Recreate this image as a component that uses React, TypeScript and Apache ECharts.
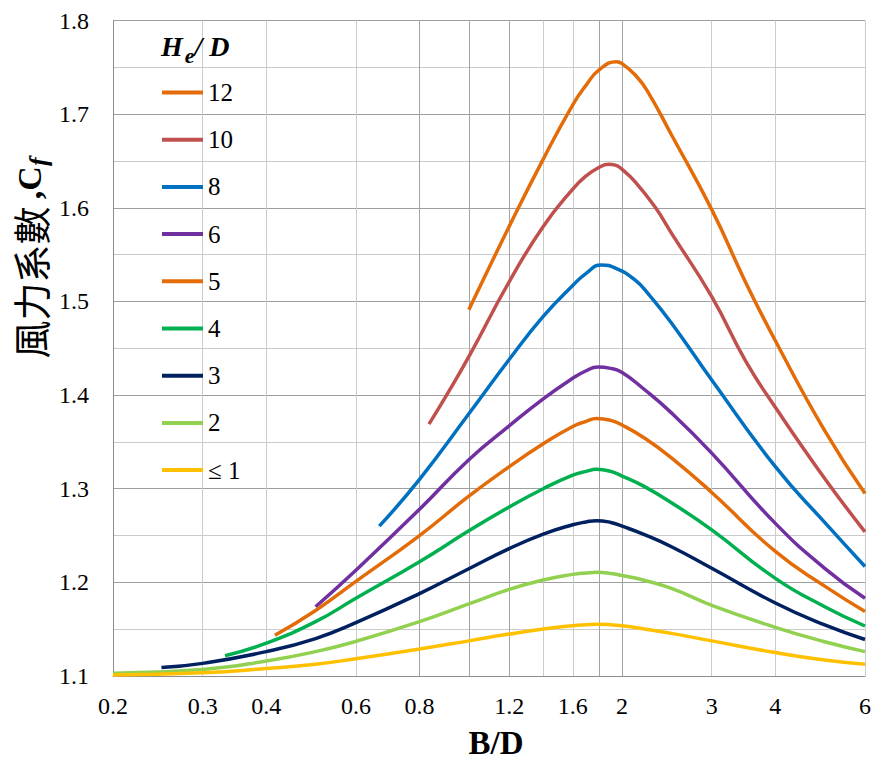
import React, { useEffect, useRef } from 'react';
import * as echarts from 'echarts';

// Axis ticks / grid positions (B/D, log scale)
const xLabelValues = [0.2, 0.3, 0.4, 0.6, 0.8, 1.2, 1.6, 2, 3, 4, 6];
const xLightGrid = [0.2, 0.3, 0.4, 0.6, 1.4, 1.6, 3, 4, 6];
const xDarkGrid = [0.8, 1, 1.2, 1.8, 2];

// Series names (He/D) and colours
const seriesNames = ['12', '10', '8', '6', '5', '4', '3', '2', '≤ 1'];
const seriesColors = ['#E36C09', '#C0504D', '#0070C0', '#7030A0', '#E36C09', '#00B050', '#002060', '#92D050', '#FFC000'];

// [B/D, Cf]
const cf12: number[][] = [[1.0, 1.491], [1.2, 1.58], [1.4, 1.652], [1.6, 1.71], [1.7, 1.731], [1.8, 1.747], [1.95, 1.756], [2.0, 1.754], [2.12, 1.742], [2.235, 1.726], [2.5, 1.678], [3.0, 1.598], [3.5, 1.52], [4.0, 1.458], [5.0, 1.362], [6.0, 1.295]];
const cf10: number[][] = [[0.835, 1.369], [0.9, 1.398], [1.0, 1.441], [1.2, 1.521], [1.4, 1.58], [1.6, 1.62], [1.7, 1.634], [1.8, 1.643], [1.88, 1.6465], [1.94, 1.6455], [2.0, 1.641], [2.12, 1.628], [2.32, 1.601], [2.5, 1.573], [3.0, 1.505], [3.5, 1.436], [4.0, 1.387], [5.0, 1.311], [6.0, 1.254]];
const cf8: number[][] = [[0.667, 1.26], [0.8, 1.31], [1.0, 1.38], [1.2, 1.438], [1.4, 1.484], [1.6, 1.517], [1.7, 1.53], [1.82, 1.539], [1.95, 1.535], [2.12, 1.523], [2.26, 1.507], [2.5, 1.477], [3.0, 1.416], [4.0, 1.3235], [5.0, 1.264], [6.0, 1.217]];
const cf6: number[][] = [[0.5, 1.174], [0.6, 1.213], [0.8, 1.278], [1.0, 1.331], [1.2, 1.367], [1.4, 1.396], [1.6, 1.418], [1.7, 1.426], [1.79, 1.43], [1.9, 1.4285], [2.0, 1.424], [2.2, 1.407], [2.5, 1.381], [3.0, 1.338], [4.0, 1.263], [5.0, 1.215], [6.0, 1.183]];
const cf5: number[][] = [[0.416, 1.1435], [0.5, 1.17], [0.6, 1.201], [0.8, 1.25], [1.0, 1.292], [1.2, 1.3235], [1.4, 1.348], [1.6, 1.3665], [1.7, 1.372], [1.78, 1.375], [1.9, 1.373], [2.0, 1.368], [2.2, 1.355], [2.5, 1.333], [3.0, 1.296], [4.0, 1.233], [5.0, 1.196], [6.0, 1.169]];
const cf4: number[][] = [[0.332, 1.1217], [0.4, 1.135], [0.5, 1.158], [0.6, 1.183], [0.8, 1.222], [1.0, 1.255], [1.2, 1.2805], [1.4, 1.3], [1.6, 1.3145], [1.7, 1.3185], [1.78, 1.3207], [1.9, 1.3185], [2.0, 1.3135], [2.2, 1.303], [2.5, 1.285], [3.0, 1.256], [4.0, 1.2043], [5.0, 1.174], [6.0, 1.1534]];
const cf3: number[][] = [[0.249, 1.109], [0.3, 1.1135], [0.4, 1.126], [0.5, 1.14], [0.6, 1.157], [0.8, 1.188], [1.0, 1.2145], [1.2, 1.236], [1.4, 1.2515], [1.6, 1.2615], [1.7, 1.2645], [1.78, 1.2659], [1.9, 1.264], [2.0, 1.26], [2.2, 1.2515], [2.5, 1.238], [3.0, 1.215], [4.0, 1.178], [5.0, 1.1545], [6.0, 1.139]];
const cf2: number[][] = [[0.2, 1.103], [0.3, 1.107], [0.4, 1.116], [0.5, 1.126], [0.6, 1.137], [0.8, 1.158], [1.0, 1.177], [1.2, 1.1925], [1.4, 1.2025], [1.6, 1.2085], [1.7, 1.21], [1.78, 1.2107], [1.9, 1.2095], [2.0, 1.2073], [2.2, 1.2025], [2.5, 1.1935], [3.0, 1.1755], [4.0, 1.152], [5.0, 1.1366], [6.0, 1.126]];
const cf1: number[][] = [[0.2, 1.101], [0.3, 1.1035], [0.4, 1.108], [0.5, 1.1125], [0.6, 1.1185], [0.8, 1.1288], [1.0, 1.1375], [1.2, 1.1448], [1.4, 1.1502], [1.6, 1.1537], [1.7, 1.1547], [1.78, 1.1552], [1.9, 1.1547], [2.0, 1.1537], [2.2, 1.1505], [2.5, 1.1455], [3.0, 1.1375], [4.0, 1.125], [5.0, 1.117], [6.0, 1.1125]];

const seriesData = [cf12, cf10, cf8, cf6, cf5, cf4, cf3, cf2, cf1];

const SERIF = 'Liberation Serif';
const CJK = 'Noto Sans CJK TC';

export default function App() {
  const ref = useRef<HTMLDivElement>(null);
  useEffect(() => {
    if (!ref.current) return;
    const chart = echarts.init(ref.current, null, { renderer: 'svg' });
    const option: any = {
      animation: false,
      backgroundColor: '#fff',
      grid: { left: 113, right: 10, top: 20.5, bottom: 90, containLabel: false },
      title: {
        left: 161,
        top: 26,
        padding: 0,
        text: '{h|H}{e|e}{d|/ D}',
        textStyle: {
          rich: {
            h: { fontFamily: SERIF, fontSize: 28, lineHeight: 40, fontWeight: 'bold', fontStyle: 'italic', color: '#000' },
            e: { fontFamily: SERIF, fontSize: 22, lineHeight: 24, fontWeight: 'bold', fontStyle: 'italic', color: '#000', verticalAlign: 'bottom', padding: [0, 0, 0, 2] },
            d: { fontFamily: SERIF, fontSize: 28, lineHeight: 40, fontWeight: 'bold', fontStyle: 'italic', color: '#000' },
          },
        },
      },
      legend: {
        orient: 'vertical',
        left: 162,
        top: 80,
        padding: 0,
        itemWidth: 41,
        itemHeight: 4,
        itemGap: 22.2,
        icon: 'rect',
        selectedMode: false,
        textStyle: { fontFamily: SERIF, fontSize: 25, color: '#000', lineHeight: 24 },
        data: seriesNames,
      },
      xAxis: [
        {
          type: 'log',
          logBase: 10,
          min: 0.2,
          max: 6,
          position: 'bottom',
          name: 'B/D',
          nameLocation: 'middle',
          nameGap: 50,
          nameTextStyle: { fontFamily: SERIF, fontWeight: 'bold', fontSize: 33, color: '#000', padding: [0, 0, 0, 14] },
          axisLine: { show: true, lineStyle: { color: '#8c8c8c', width: 1 } },
          axisTick: { show: false, customValues: xLightGrid },
          axisLabel: {
            customValues: xLabelValues,
            fontFamily: SERIF,
            fontSize: 24,
            color: '#000',
            margin: 18,
            formatter: (v: number) => String(+Number(v).toFixed(2)),
          },
          splitLine: { show: true, lineStyle: { color: '#cbcbcb', width: 1 } },
        },
        {
          type: 'log',
          logBase: 10,
          min: 0.2,
          max: 6,
          position: 'top',
          axisLine: { show: false },
          axisTick: { show: false, customValues: xDarkGrid },
          axisLabel: { show: false },
          splitLine: { show: true, lineStyle: { color: '#a3a3a3', width: 1 } },
        },
      ],
      yAxis: {
        type: 'value',
        min: 1.1,
        max: 1.8,
        interval: 0.1,
        axisLine: { show: true, lineStyle: { color: '#8c8c8c', width: 1 } },
        axisTick: { show: false },
        axisLabel: {
          fontFamily: SERIF,
          fontSize: 24,
          color: '#000',
          margin: 24,
          formatter: (v: number) => v.toFixed(1),
        },
        splitLine: { show: true, lineStyle: { color: '#9f9f9f', width: 1 } },
        minorTick: { show: false, splitNumber: 2 },
        minorSplitLine: { show: true, lineStyle: { color: '#cbcbcb', width: 1 } },
      },
      graphic: [
        {
          type: 'text',
          x: 29,
          y: 258,
          rotation: Math.PI / 2,
          style: {
            text: '{a|風力系數}{s| }{b|,C}{c|f}',
            align: 'center',
            verticalAlign: 'middle',
            rich: {
              a: { fontFamily: CJK, fontSize: 38, lineHeight: 44, fill: '#000', color: '#000' },
              s: { fontFamily: SERIF, fontSize: 30, lineHeight: 44, fill: '#000', color: '#000' },
              b: { fontFamily: SERIF, fontSize: 34, lineHeight: 44, fontWeight: 'bold', fill: '#000', color: '#000' },
              c: { fontFamily: SERIF, fontSize: 26, lineHeight: 30, fontWeight: 'bold', fontStyle: 'italic', fill: '#000', color: '#000', verticalAlign: 'bottom' },
            },
          },
        },
      ],
      series: seriesNames.map((name, i) => ({
        type: 'line',
        name,
        xAxisIndex: 0,
        data: seriesData[i],
        smooth: 0.5,
        symbol: 'none',
        showSymbol: false,
        lineStyle: { color: seriesColors[i], width: 3.5 },
        itemStyle: { color: seriesColors[i] },
        z: 3,
      })),
    };
    chart.setOption(option);
    return () => chart.dispose();
  }, []);
  return <div ref={ref} style={{ position: 'fixed', left: 0, top: 0, width: 875, height: 766 }} />;
}
